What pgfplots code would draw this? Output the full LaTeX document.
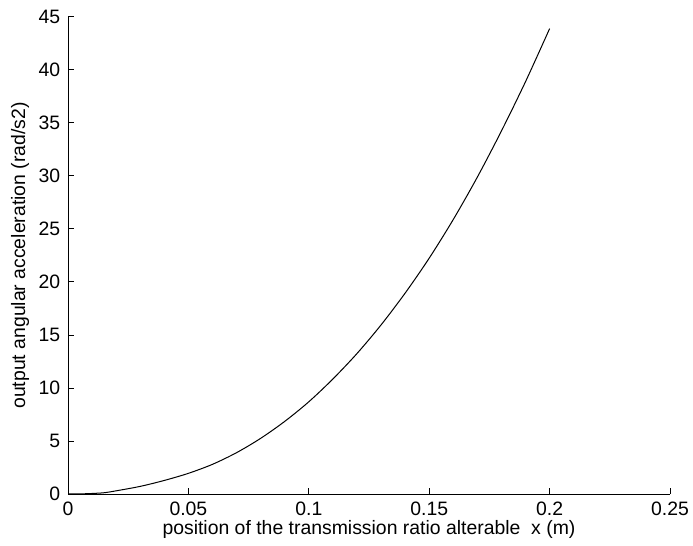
\documentclass[border=0pt]{standalone}
\usepackage{fontspec}
\setmainfont{Liberation Sans}
\usepackage{pgfplots}
\pgfplotsset{compat=1.18}

\begin{document}
\fontsize{9.7}{11.5}\selectfont
\begin{tikzpicture}
\begin{axis}[
    name=ax,
    scale only axis,
    width=301pt, height=238.5pt,
    xmin=0, xmax=0.25, ymin=0, ymax=45,
    axis x line*=bottom, axis y line*=left,
    axis line style={-, line width=0.5pt},
    tick align=inside,
    major tick length=3pt,
    tick style={black, line width=0.5pt},
    xtick={0,0.05,0.1,0.15,0.2,0.25},
    xticklabels={0,0.05,0.1,0.15,0.2,0.25},
    ytick={0,5,...,45},
    /pgf/number format/assume math mode=true,
    xticklabel style={yshift=-0.5pt},
    yticklabel style={xshift=-0.5pt},
    xlabel={position of the transmission ratio alterable\ \ x (m)},
    ylabel={output angular acceleration (rad/s2)},
    xlabel style={yshift=4pt},
    ylabel style={yshift=-2pt},
]
\addplot[black, line width=0.5pt, smooth] coordinates {
    (0,0) (0.005,0.01) (0.01,0.05) (0.015,0.12) (0.02,0.3) (0.03,0.72)
    (0.04,1.28) (0.05,1.95) (0.06,2.8) (0.07,3.9) (0.08,5.25)
    (0.09,6.85) (0.1,8.7) (0.11,10.85) (0.12,13.25) (0.13,15.95)
    (0.14,18.95) (0.15,22.25) (0.16,25.9) (0.17,29.9) (0.18,34.25)
    (0.19,38.9) (0.2,43.9)
};
\end{axis}
\pgfresetboundingbox
\path ([shift={(-34pt,-25.5pt)}]ax.south west) rectangle ([shift={(11.5pt,8.5pt)}]ax.north east);
\end{tikzpicture}
\end{document}
